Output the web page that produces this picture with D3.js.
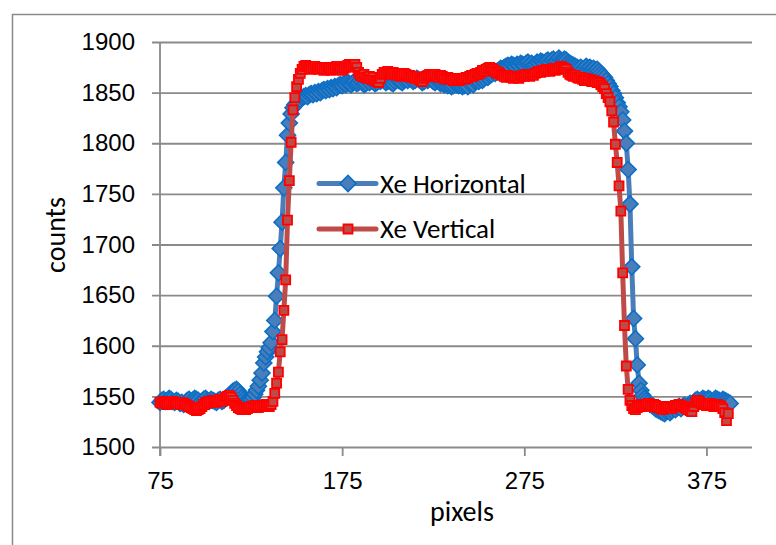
<!DOCTYPE html>
<html>
  <head>
    <meta charset="utf-8" />
    <title>Xe Horizontal / Vertical</title>
    <style>
      body{
        margin: 0;
        background: white;
      }
      svg{
        font-family: Carlito, Calibri, Lato, sans-serif;
      }
      .grid line{
        stroke: #8a8a8a;
        stroke-width: 1.8;
      }
      .tick text{
        fill: black;
        font-size: 24px;
      }
    </style>
  </head>
  <body>
    <script src="https://d3js.org/d3.v7.min.js"></script>
    <svg id="chart"></svg>
    <script>
      // first pixel of both profiles, one value per pixel after that
      var startPixel = 75;

      // Xe Horizontal, pixels 75..388
      var xeHorizontal = [
        1544, 1546, 1547, 1545, 1546, 1548, 1547, 1545, 1544, 1546,
        1545, 1543, 1544, 1542, 1544, 1546, 1547, 1545, 1546, 1548,
        1547, 1546, 1544, 1545, 1547, 1548, 1546, 1545, 1547, 1546,
        1545, 1544, 1546, 1547, 1545, 1546, 1548, 1549, 1551, 1553,
        1555, 1556, 1557, 1555, 1552, 1549, 1547, 1545, 1546, 1547,
        1547, 1549, 1552, 1556, 1560, 1566, 1573, 1583, 1589, 1594,
        1598, 1603, 1614, 1625, 1649, 1672, 1696, 1722, 1756, 1781,
        1808, 1820, 1829, 1835, 1838, 1840, 1841, 1843, 1845, 1846,
        1847, 1846, 1848, 1849, 1848, 1850, 1849, 1851, 1850, 1852,
        1853, 1852, 1854, 1853, 1855, 1854, 1856, 1855, 1857, 1858,
        1857, 1859, 1858, 1860, 1859, 1858, 1860, 1861, 1859, 1860,
        1862, 1860, 1858, 1859, 1861, 1860, 1862, 1861, 1859, 1860,
        1862, 1861, 1863, 1862, 1860, 1861, 1862, 1860, 1859, 1861,
        1863, 1862, 1861, 1860, 1862, 1863, 1862, 1864, 1863, 1861,
        1862, 1864, 1863, 1862, 1860, 1861, 1863, 1862, 1864, 1863,
        1861, 1860, 1862, 1861, 1859, 1860, 1858, 1859, 1857, 1858,
        1856, 1857, 1859, 1858, 1857, 1858, 1856, 1857, 1858, 1856,
        1859, 1860, 1858, 1861, 1862, 1861, 1863, 1862, 1864, 1866,
        1865, 1867, 1868, 1870, 1869, 1871, 1872, 1874, 1873, 1875,
        1876, 1877, 1876, 1878, 1877, 1876, 1878, 1877, 1879, 1878,
        1877, 1879, 1880, 1878, 1879, 1877, 1878, 1880, 1879, 1881,
        1880, 1879, 1881, 1882, 1880, 1882, 1883, 1881, 1882, 1884,
        1882, 1881, 1883, 1882, 1880, 1879, 1878, 1877, 1876, 1875,
        1874, 1875, 1873, 1874, 1876, 1874, 1875, 1873, 1874, 1872,
        1873, 1871, 1869, 1867, 1865, 1862, 1859, 1856, 1852, 1849,
        1845, 1840, 1836, 1831, 1823, 1812, 1800, 1774, 1740, 1678,
        1627, 1607, 1581, 1563, 1556, 1551, 1548, 1546, 1544, 1542,
        1541, 1540, 1538, 1537, 1536, 1535, 1534, 1533, 1535, 1536,
        1534, 1536, 1538, 1537, 1539, 1540, 1538, 1540, 1541, 1539,
        1541, 1543, 1542, 1544, 1546, 1547, 1545, 1546, 1548, 1547,
        1546, 1548, 1547, 1545, 1546, 1548, 1547, 1546, 1545, 1547,
        1546, 1545, 1544, 1543
      ];

      // Xe Vertical, pixels 75..387
      var xeVertical = [
        1544, 1543, 1545, 1544, 1542, 1543, 1544, 1545, 1543, 1544,
        1543, 1542, 1544, 1543, 1542, 1541, 1540, 1539, 1538, 1537,
        1536, 1537, 1538, 1540, 1542, 1544, 1543, 1545, 1544, 1546,
        1545, 1544, 1546, 1547, 1545, 1547, 1549, 1550, 1551, 1549,
        1546, 1543, 1541, 1539, 1538, 1537, 1538, 1537, 1538, 1539,
        1540, 1539, 1541, 1540, 1539, 1541, 1540, 1541, 1542, 1541,
        1540, 1542, 1545, 1553, 1563, 1574, 1594, 1606, 1635, 1665,
        1724, 1763, 1801, 1833, 1845, 1856, 1863, 1869, 1873, 1876,
        1877, 1876, 1875, 1873, 1874, 1876, 1874, 1873, 1875, 1874,
        1872, 1873, 1875, 1874, 1872, 1873, 1874, 1876, 1874, 1873,
        1872, 1874, 1875, 1877, 1878, 1877, 1876, 1878, 1875, 1870,
        1867, 1866, 1868, 1865, 1864, 1866, 1863, 1865, 1862, 1861,
        1860, 1864, 1868, 1870, 1869, 1871, 1869, 1868, 1870, 1869,
        1867, 1868, 1866, 1867, 1869, 1868, 1866, 1867, 1865, 1866,
        1864, 1865, 1863, 1862, 1861, 1864, 1866, 1867, 1868, 1866,
        1867, 1868, 1866, 1865, 1867, 1866, 1864, 1863, 1865, 1864,
        1863, 1862, 1864, 1863, 1862, 1863, 1864, 1863, 1865, 1864,
        1866, 1867, 1866, 1868, 1869, 1868, 1870, 1872, 1871, 1873,
        1874, 1875, 1874, 1873, 1871, 1869, 1870, 1868, 1867, 1866,
        1865, 1867, 1866, 1865, 1864, 1866, 1865, 1864, 1866, 1867,
        1866, 1868, 1867, 1866, 1868, 1867, 1869, 1870, 1871, 1870,
        1872, 1871, 1873, 1872, 1871, 1873, 1874, 1872, 1873, 1874,
        1876, 1875, 1874, 1873, 1870, 1868, 1867, 1866, 1867, 1865,
        1864, 1865, 1863, 1862, 1864, 1862, 1863, 1861, 1862, 1861,
        1860, 1860, 1858, 1856, 1854, 1849, 1845, 1841, 1832, 1821,
        1799, 1781, 1758, 1733, 1672, 1620, 1580, 1557, 1546, 1541,
        1538, 1537, 1539, 1540, 1542, 1541, 1540, 1542, 1543, 1541,
        1540, 1542, 1541, 1539, 1540, 1538, 1537, 1539, 1538, 1540,
        1539, 1538, 1540, 1541, 1540, 1542, 1541, 1540, 1539, 1538,
        1537, 1536, 1535, 1540, 1544, 1546, 1545, 1543, 1542, 1543,
        1541, 1542, 1543, 1541, 1540, 1542, 1542, 1541, 1540, 1538,
        1534, 1526, 1533
      ];

      var seriesNames = ["Xe Horizontal", "Xe Vertical"];
      var yTicks = [1500, 1550, 1600, 1650, 1700, 1750, 1800, 1850, 1900];
      var xTicks = [75, 175, 275, 375];
      var xTitle = "pixels";
      var yTitle = "counts";

      var width = 776;
      var height = 545;
      var plotLeft = 160, plotRight = 752, plotTop = 42, plotBottom = 447;

      var svg = d3.select("#chart")
        .attr("width", width)
        .attr("height", height)
        .style("background", "white");

      // chart area border (runs past the right and bottom edge)
      svg.append("rect")
        .attr("x", 12.5)
        .attr("y", 14.5)
        .attr("width", 820)
        .attr("height", 600)
        .attr("fill", "none")
        .attr("stroke", "#8a8a8a")
        .attr("stroke-width", 1.5);

      var x = d3.scaleLinear().domain([75, 400]).range([plotLeft, plotRight]);
      var y = d3.scaleLinear().domain([1500, 1900]).range([plotBottom, plotTop]);

      // horizontal gridlines + y labels
      var yAxis = svg.append("g")
        .attr("class", "grid")
        .attr("transform", "translate(" + (plotLeft - 8) + ",0)")
        .call(d3.axisLeft(y).tickValues(yTicks).tickFormat(d3.format("d"))
          .tickSize(-(plotRight - plotLeft + 8)).tickPadding(17));
      yAxis.select(".domain").remove();

      // x ticks + labels
      var xAxis = svg.append("g")
        .attr("class", "grid")
        .attr("transform", "translate(0," + plotBottom + ")")
        .call(d3.axisBottom(x).tickValues(xTicks).tickFormat(d3.format("d"))
          .tickSize(9).tickPadding(16));
      xAxis.select(".domain").remove();

      // vertical axis line
      svg.append("line")
        .attr("x1", x(75)).attr("x2", x(75))
        .attr("y1", y(1900)).attr("y2", y(1500) + 9)
        .attr("stroke", "#8a8a8a")
        .attr("stroke-width", 1.8);

      svg.append("text")
        .attr("x", 462)
        .attr("y", 521)
        .attr("text-anchor", "middle")
        .style("font-size", "28px")
        .text(xTitle);

      svg.append("text")
        .attr("transform", "translate(65,235) rotate(-90)")
        .attr("text-anchor", "middle")
        .style("font-size", "28px")
        .text(yTitle);

      var horizontalPoints = xeHorizontal.map(function (v, i) {
        return { px: startPixel + i, value: v };
      });
      var verticalPoints = xeVertical.map(function (v, i) {
        return { px: startPixel + i, value: v };
      });

      var line = d3.line()
        .x(function (d) { return x(d.px); })
        .y(function (d) { return y(d.value); });

      var diamond = d3.symbol().type(d3.symbolSquare).size(128);
      var square = d3.symbol().type(d3.symbolSquare).size(81);

      // series 1: blue diamonds
      svg.append("path")
        .datum(horizontalPoints)
        .attr("d", line)
        .attr("fill", "none")
        .attr("stroke", "#4a7ebb")
        .attr("stroke-width", 5)
        .attr("stroke-linejoin", "round");

      svg.selectAll(".hmark")
        .data(horizontalPoints)
        .enter()
        .append("path")
        .attr("class", "hmark")
        .attr("d", diamond)
        .attr("transform", function (d) {
          return "translate(" + x(d.px) + "," + y(d.value) + ") rotate(45)";
        })
        .attr("fill", "#4a7ebb")
        .attr("stroke", "#0b6fc6")
        .attr("stroke-width", 1.6);

      // series 2: red squares
      svg.append("path")
        .datum(verticalPoints)
        .attr("d", line)
        .attr("fill", "none")
        .attr("stroke", "#be4b48")
        .attr("stroke-width", 5)
        .attr("stroke-linejoin", "round");

      svg.selectAll(".vmark")
        .data(verticalPoints)
        .enter()
        .append("path")
        .attr("class", "vmark")
        .attr("d", square)
        .attr("transform", function (d) {
          return "translate(" + x(d.px) + "," + y(d.value) + ")";
        })
        .attr("fill", "#be4b48")
        .attr("stroke", "#ff0000")
        .attr("stroke-width", 1.8);

      // legend
      var legendY = [183.5, 229];
      var legend = svg.selectAll(".legend")
        .data(seriesNames)
        .enter()
        .append("g")
        .attr("class", "legend")
        .attr("transform", function (d, i) { return "translate(0," + legendY[i] + ")"; });

      legend.append("line")
        .attr("x1", 319).attr("x2", 376)
        .attr("y1", 0).attr("y2", 0)
        .attr("stroke", function (d, i) { return i === 0 ? "#4a7ebb" : "#be4b48"; })
        .attr("stroke-width", 5)
        .attr("stroke-linecap", "round");

      legend.append("path")
        .attr("d", function (d, i) { return i === 0 ? diamond() : square(); })
        .attr("transform", function (d, i) { return i === 0 ? "translate(348,0) rotate(45)" : "translate(348,0)"; })
        .attr("fill", function (d, i) { return i === 0 ? "#4a7ebb" : "#be4b48"; })
        .attr("stroke", function (d, i) { return i === 0 ? "#0b6fc6" : "#ff0000"; })
        .attr("stroke-width", function (d, i) { return i === 0 ? 1.6 : 1.8; });

      legend.append("text")
        .attr("x", 380)
        .attr("y", 9)
        .style("font-size", "27px")
        .text(function (d) { return d; });
    </script>
  </body>
</html>
